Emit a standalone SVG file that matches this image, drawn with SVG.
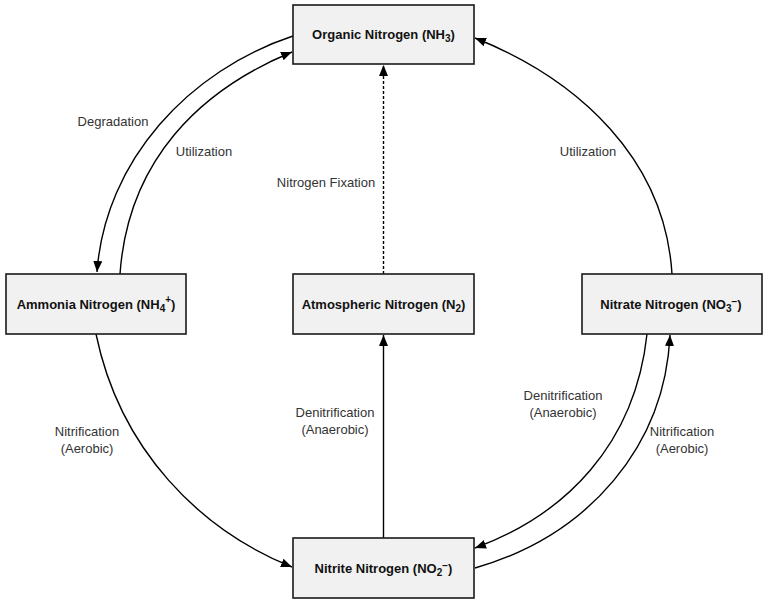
<svg xmlns="http://www.w3.org/2000/svg" width="768" height="603" viewBox="0 0 768 603">
<style>
.box{fill:#f1f1f1;stroke:#1a1a1a;stroke-width:1.6}
.bt{font-family:"Liberation Sans",Arial,sans-serif;font-size:13px;font-weight:bold;fill:#111;text-anchor:middle}
.lb{font-family:"Liberation Sans",Arial,sans-serif;font-size:13px;fill:#333;text-anchor:middle}
.ln{fill:none;stroke:#000;stroke-width:1.4}
.sub{font-size:10px}
</style>
<defs>
<marker id="ah" markerWidth="12" markerHeight="10" refX="11" refY="4.5" orient="auto" markerUnits="userSpaceOnUse">
<path d="M0,0 L11,4.5 L0,9 Z" fill="#000"/>
</marker>
</defs>
<rect width="768" height="603" fill="#fff"/>
<g id="connectors">
<path id="degradation" class="ln" d="M293,36 C190,70 105,160 97,272" marker-end="url(#ah)"/>
<path id="utilization-left" class="ln" d="M120,274 C128,160 200,90 292,52" marker-end="url(#ah)"/>
<path id="utilization-right" class="ln" d="M672,274 C665,160 580,80 475,38" marker-end="url(#ah)"/>
<path id="fixation" class="ln" d="M383.5,274 L383.5,65" stroke-dasharray="3,2" marker-end="url(#ah)"/>
<path id="denit-mid" class="ln" d="M383.5,538 L383.5,335" marker-end="url(#ah)"/>
<path id="nitrif-left" class="ln" d="M96,334 C120,450 200,530 292,567" marker-end="url(#ah)"/>
<path id="denit-right" class="ln" d="M647,334 C635,445 565,515 475,548" marker-end="url(#ah)"/>
<path id="nitrif-right" class="ln" d="M475,568 C590,535 665,445 670,335" marker-end="url(#ah)"/>
</g>
<g id="labels">
<text class="lb" x="113" y="126">Degradation</text>
<text class="lb" x="204" y="156">Utilization</text>
<text class="lb" x="588" y="156">Utilization</text>
<text class="lb" x="326" y="187">Nitrogen Fixation</text>
<text class="lb" x="335" y="417">Denitrification</text>
<text class="lb" x="335" y="434">(Anaerobic)</text>
<text class="lb" x="87" y="436">Nitrification</text>
<text class="lb" x="87" y="453">(Aerobic)</text>
<text class="lb" x="563" y="400">Denitrification</text>
<text class="lb" x="563" y="417">(Anaerobic)</text>
<text class="lb" x="682" y="436">Nitrification</text>
<text class="lb" x="682" y="453">(Aerobic)</text>
</g>
<g id="organic">
<rect class="box" x="293" y="5" width="181" height="59"/>
<text class="bt" x="383.5" y="39">Organic Nitrogen (NH<tspan class="sub" dy="3">3</tspan><tspan dy="-3">)</tspan></text>
</g>
<g id="ammonia">
<rect class="box" x="6" y="274" width="180" height="60"/>
<text class="bt" x="96" y="309">Ammonia Nitrogen (NH<tspan class="sub" dy="3">4</tspan><tspan class="sub" dy="-9">+</tspan><tspan dy="6">)</tspan></text>
</g>
<g id="atmospheric">
<rect class="box" x="293" y="274" width="181" height="60"/>
<text class="bt" x="383.5" y="309">Atmospheric Nitrogen (N<tspan class="sub" dy="3">2</tspan><tspan dy="-3">)</tspan></text>
</g>
<g id="nitrate">
<rect class="box" x="582" y="274" width="180" height="60"/>
<text class="bt" x="671" y="309">Nitrate Nitrogen (NO<tspan class="sub" dy="3">3</tspan><tspan class="sub" dy="-7">−</tspan><tspan dy="4">)</tspan></text>
</g>
<g id="nitrite">
<rect class="box" x="293" y="538" width="181" height="60"/>
<text class="bt" x="383.5" y="573">Nitrite Nitrogen (NO<tspan class="sub" dy="3">2</tspan><tspan class="sub" dy="-7">−</tspan><tspan dy="4">)</tspan></text>
</g>
</svg>
